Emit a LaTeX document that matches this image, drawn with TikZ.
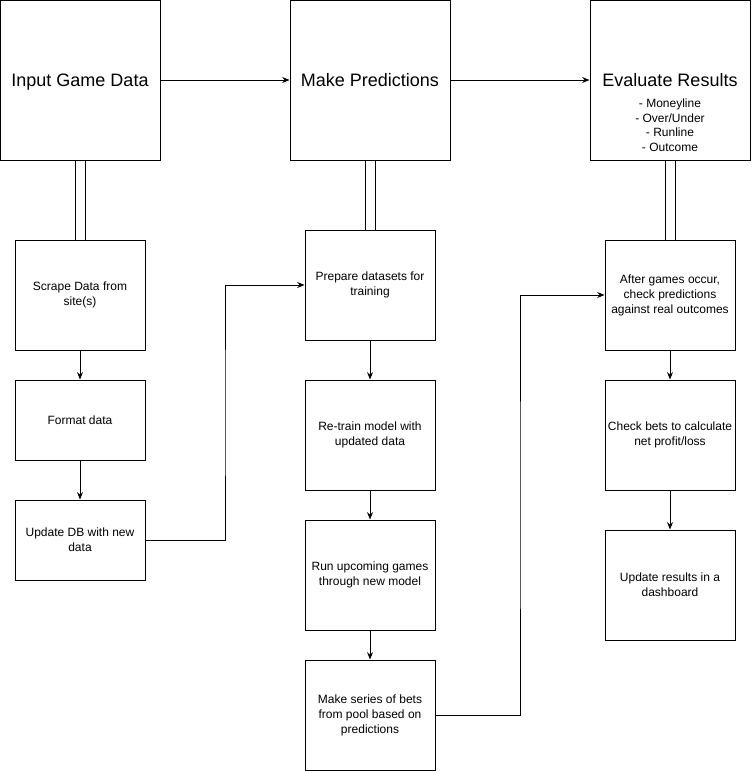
\documentclass[tikz,border=0pt]{standalone}
\usepackage{fontspec}
\setmainfont{Liberation Sans}
\usetikzlibrary{arrows.meta}
\usetikzlibrary{calc,positioning}

\tikzset{
    stage/.style={draw, line width=0.75pt, minimum width=120pt, minimum height=120pt,
        align=center, text height=12.5pt, text depth=2.8pt, font=\fontsize{13.5}{16}\selectfont},
    stepbox/.style={draw, line width=0.75pt, minimum width=97.5pt, minimum height=82.5pt,
        align=center, inner sep=1pt, font=\fontsize{9}{11.25}\selectfont},
    shortbox/.style={stepbox, minimum height=60pt},
    link/.style={line width=0.75pt, double, double distance=6.75pt},
    flow/.style={->, line width=0.75pt}
}

\begin{document}
\begin{tikzpicture}[>={Stealth[length=5.5pt, width=4.5pt]}, x=0.75pt, y=-0.75pt]

    \useasboundingbox (0,0) rectangle (751,771);

    % top row
    \node[stage] (inp) at (80,80) {Input Game Data};
    \node[stage] (mk) at (370,80) {Make Predictions};
    \node[stage] (ev) at (670,80) {Evaluate Results};
    \node[font=\fontsize{9}{10.9}\selectfont, align=center] (evlist) at (670,125)
        {- Moneyline\\- Over/Under\\- Runline\\- Outcome};

    % left column
    \node[stepbox] (scr) at (80,295) {Scrape Data from\\site(s)};
    \node[shortbox] (fmt) at (80,420) {Format data};
    \node[shortbox] (upd) at (80,540) {Update DB with new\\data};

    % middle column
    \node[stepbox] (prep) at (370,285) {Prepare datasets for\\training};
    \node[stepbox] (rtr) at (370,435) {Re-train model with\\updated data};
    \node[stepbox] (run) at (370,575) {Run upcoming games\\through new model};
    \node[stepbox] (bets) at (370,715) {Make series of bets\\from pool based on\\predictions};

    % right column
    \node[stepbox] (after) at (670,295) {After games occur,\\check predictions\\against real outcomes};
    \node[stepbox] (chk) at (670,435) {Check bets to calculate\\net profit/loss};
    \node[stepbox] (dash) at (670,585) {Update results in a\\dashboard};

    \draw[flow] (inp) -- (mk);
    \draw[flow] (mk) -- (ev);

    \draw[link] (inp) -- (scr);
    \draw[link] (mk) -- (prep);
    \draw[link] (ev) -- (after);

    \draw[flow] (scr) -- (fmt);
    \draw[flow] (fmt) -- (upd);
    \draw[flow] (prep) -- (rtr);
    \draw[flow] (rtr) -- (run);
    \draw[flow] (run) -- (bets);
    \draw[flow] (after) -- (chk);
    \draw[flow] (chk) -- (dash);

    \draw[flow] (upd.east) -| ($(upd.east)!0.5!(prep.west)$) |- (prep.west);
    \draw[flow] (bets.east) -| ($(bets.east)!0.5!(after.west)$) |- (after.west);

\end{tikzpicture}
\end{document}
